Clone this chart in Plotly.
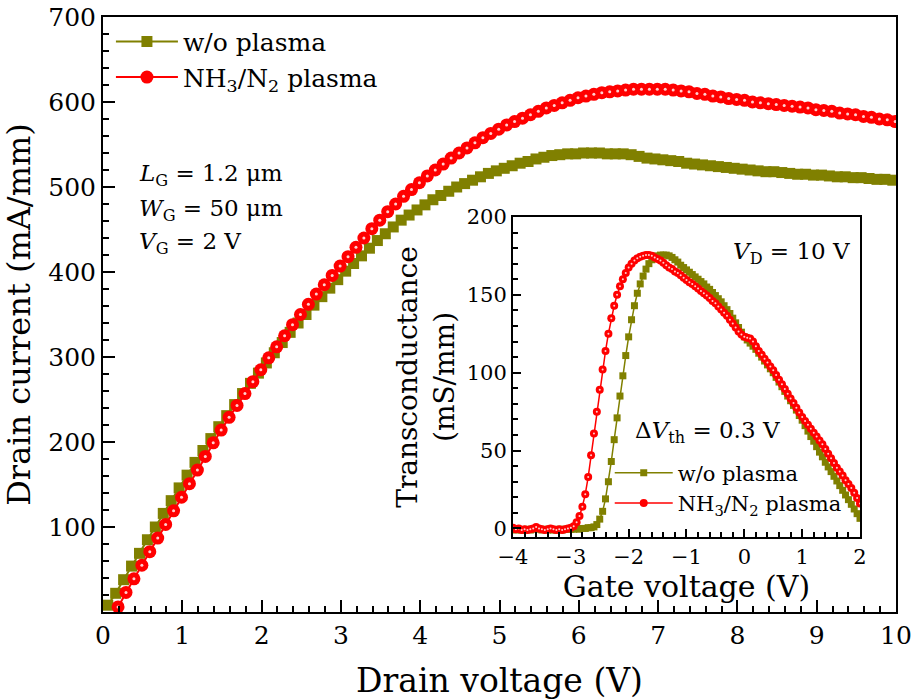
import plotly.graph_objects as go

# ---------------- main plot data (output characteristics, VG = 2 V) ----------------
drain_v_wo = [round(0.06 + 0.1 * i, 2) for i in range(100)]
drain_i_wo = [8, 22, 38, 54, 69, 85, 100, 116, 131, 146,
              161, 176, 190, 204, 218, 231, 244, 257, 269, 281,
              293, 305, 317, 329, 340, 350, 361, 371, 381, 391,
              401, 410, 419, 428, 437, 445, 453, 461, 467, 473,
              479, 485, 490, 495, 500, 504, 508, 512, 516, 519,
              522, 525, 528, 530, 533, 535, 537, 538, 539, 539,
              540, 540, 540, 539, 539, 539, 538, 536, 534, 533,
              532, 531, 530, 528, 527, 526, 525, 524, 523, 522,
              521, 520, 519, 518, 518, 517, 516, 515, 515, 514,
              514, 513, 512, 512, 511, 511, 510, 509, 509, 508]

drain_v_nh = [round(0.19 + 0.1 * i, 2) for i in range(99)]
drain_i_nh = [6, 23, 39, 55, 71, 87, 103, 119, 135, 151,
              167, 183, 199, 214, 229, 243, 257, 271, 285, 299,
              312, 325, 338, 350, 362, 374, 385, 396, 407, 418,
              429, 440, 451, 461, 471, 480, 489, 497, 505, 513,
              520, 527, 534, 540, 546, 552, 558, 563, 568, 573,
              577, 581, 585, 589, 593, 596, 599, 602, 605, 607,
              609, 611, 612, 613, 614, 615, 615, 615, 615, 615,
              614, 613, 612, 610, 609, 607, 606, 604, 603, 602,
              600, 599, 598, 597, 596, 595, 594, 593, 591, 590,
              589, 587, 586, 585, 583, 582, 580, 579, 577]

# ---------------- inset data (transfer, VD = 10 V) ----------------
gate_v = [round(-4 + 0.05 * i, 2) for i in range(121)]
gm_wo = [-0.5, -1, -0.5, -1, -1, -0.5, -1, -0.5, 0, -0.5,
         -1, -0.5, -1, -0.5, -1, -1, -0.5, -1, -0.5, -0.5,
         -0.5, -0.5, 0, -0.5, 0, 0, 0.5, 0.5,
         1, 2.5, 6, 11, 19, 30, 43, 57, 71, 85,
         98, 111, 123, 134, 143, 151, 157, 162, 166.5, 170,
         172.5, 174, 175, 175.5, 175.5, 175.5, 175, 174, 172.5, 171,
         169, 167.5, 166, 164.5, 163, 161.5, 160, 158.5, 157, 155,
         153.5, 151.5, 149.5, 147.5, 145.5, 143, 140.5, 138, 135, 132,
         129, 126, 123,
         121, 119, 117, 115, 112.5, 110, 107.5, 105, 102.5, 100,
         97, 94, 91, 88, 85, 82, 79, 76, 72.5, 69.5,
         66, 62.5, 59, 56, 52.5, 49, 46, 42.5, 39.5, 36.5,
         33.5, 30.5, 27.5, 24.5, 21.5, 18.5, 15.5, 12.5, 9.5, 6.5]
gm_nh = [0.5, -0.5, 0, -1, -0.5, -1, -0.5, 0, 1, 0,
         -0.5, -1, -0.5, 0, -0.5, -1, -0.5, -1, -0.5, 0,
         0.5,
         1.5, 4, 8, 14, 22, 33, 47, 61, 75, 89,
         102, 114, 125, 135, 143, 150, 155.5, 160, 164, 167.5,
         170, 172, 173.5, 174.5, 175, 175.5, 175.5, 175, 174, 173,
         172, 170.5, 169, 167.5, 166.5, 165, 164, 162.5, 161, 159.5,
         158, 157, 155.5, 154, 152.5, 151, 149.5, 148, 146, 144.5,
         142.5, 140.5, 138.5, 136.5, 134, 131.5, 129, 126.5, 124.5, 123,
         122.5, 122, 120, 117, 114, 111.5, 109, 106.5, 104, 101.5,
         98.5, 95.5, 92.5, 89.5, 86.5, 83.5, 80.5, 77.5, 74.5, 71.5,
         69, 66.5, 64, 61.5, 59, 56.5, 54, 51, 48, 45,
         42, 39, 36.5, 34, 31, 28.5, 26, 23, 19.5, 16]

main_xticks = [0, 1, 2, 3, 4, 5, 6, 7, 8, 9, 10]
main_yticks = [100, 200, 300, 400, 500, 600, 700]
inset_xticks = [-4, -3, -2, -1, 0, 1, 2]
inset_xlabels = ["−4", "−3", "−2", "−1", "0", "1", "2"]
inset_yticks = [0, 50, 100, 150, 200]

OLIVE = "#808000"
RED = "#ff0000"
HL = "#ffd0d0"
FONT = "DejaVu Serif"

fig = go.Figure()

# main traces
fig.add_trace(go.Scatter(
    x=drain_v_wo, y=drain_i_wo, mode="lines+markers", name="w/o plasma",
    line=dict(color=OLIVE, width=2),
    marker=dict(symbol="square", size=11, color=OLIVE, line=dict(width=0)),
    legend="legend"))
fig.add_trace(go.Scatter(
    x=drain_v_nh, y=drain_i_nh, mode="lines+markers",
    name="NH<sub>3</sub>/N<sub>2</sub> plasma",
    line=dict(color=RED, width=2),
    marker=dict(symbol="circle", size=13, color=RED, line=dict(width=0)),
    legend="legend"))
fig.add_trace(go.Scatter(
    x=drain_v_nh, y=drain_i_nh, mode="markers", showlegend=False,
    hoverinfo="skip", marker=dict(symbol="circle", size=3, color=HL)))

# inset traces
fig.add_trace(go.Scatter(
    x=gate_v, y=gm_wo, mode="lines+markers", name="w/o plasma",
    xaxis="x2", yaxis="y2",
    line=dict(color=OLIVE, width=1.5),
    marker=dict(symbol="square", size=7, color=OLIVE, line=dict(width=0)),
    legend="legend2"))
fig.add_trace(go.Scatter(
    x=gate_v, y=gm_nh, mode="lines+markers",
    name="NH<sub>3</sub>/N<sub>2</sub> plasma",
    xaxis="x2", yaxis="y2",
    line=dict(color=RED, width=1.5),
    marker=dict(symbol="circle", size=8, color=RED, line=dict(width=0)),
    legend="legend2"))
fig.add_trace(go.Scatter(
    x=gate_v, y=gm_nh, mode="markers", showlegend=False, hoverinfo="skip",
    xaxis="x2", yaxis="y2",
    marker=dict(symbol="circle", size=2, color=HL)))

axis_common = dict(showline=True, linecolor="black", mirror=True,
                   showgrid=False, zeroline=False, ticks="inside",
                   tickcolor="black", automargin=False,
                   ticklabeloverflow="allow")

fig.update_layout(
    width=913, height=700,
    margin=dict(l=103, r=17, t=17, b=88),
    paper_bgcolor="white", plot_bgcolor="white",
    font=dict(family=FONT, color="black", size=22),
    xaxis=dict(domain=[0, 1], range=[0, 10], tickmode="array",
               tickvals=main_xticks, ticklen=12, tickwidth=1.5, linewidth=2,
               minor=dict(tickmode="linear", tick0=0, dtick=0.2, ticklen=6,
                          ticks="inside", tickwidth=1.5, tickcolor="black"),
               tickfont=dict(size=25),
               title=dict(text="Drain voltage (V)", font=dict(size=33), standoff=24),
               **axis_common),
    yaxis=dict(domain=[0, 1], range=[0, 700], tickmode="array",
               tickvals=main_yticks, ticklen=12, tickwidth=1.5, linewidth=2,
               minor=dict(tickmode="linear", tick0=0, dtick=20, ticklen=6,
                          ticks="inside", tickwidth=1.5, tickcolor="black"),
               tickfont=dict(size=25),
               title=dict(text="Drain current (mA/mm)", font=dict(size=32), standoff=12),
               **axis_common),
    xaxis2=dict(domain=[0.517, 0.9546], anchor="y2", range=[-4, 2],
                tickmode="array", tickvals=inset_xticks, ticktext=inset_xlabels,
                ticklen=8, tickwidth=1.5, linewidth=2,
                minor=dict(tickmode="linear", tick0=-4, dtick=0.2, ticklen=5,
                           ticks="inside", tickwidth=1.5, tickcolor="black"),
                tickfont=dict(size=21),
                title=dict(text="Gate voltage (V)", font=dict(size=30), standoff=0),
                **axis_common),
    yaxis2=dict(domain=[0.126, 0.664], anchor="x2", range=[-5.5, 200],
                tickmode="array", tickvals=inset_yticks,
                ticklen=8, tickwidth=1.5, linewidth=2,
                minor=dict(tickmode="linear", tick0=0, dtick=10, ticklen=5,
                           ticks="inside", tickwidth=1.5, tickcolor="black"),
                tickfont=dict(size=21),
                title=dict(text="Transconductance<br>(mS/mm)", font=dict(size=28), standoff=4),
                **axis_common),
    legend=dict(x=0.01, y=0.997, xanchor="left", yanchor="top", itemwidth=62,
                bgcolor="rgba(0,0,0,0)", font=dict(size=25), tracegroupgap=0),
    legend2=dict(x=0.639, y=0.268, xanchor="left", yanchor="top", itemwidth=58,
                 bgcolor="rgba(0,0,0,0)", font=dict(size=21), tracegroupgap=0),
    showlegend=True,
)

annots = [
    dict(x=0.043, y=0.734, text="<i>L</i><sub>G</sub> = 1.2 μm", xanchor="left"),
    dict(x=0.043, y=0.676, text="<i>W</i><sub>G</sub> = 50 μm", xanchor="left"),
    dict(x=0.043, y=0.620, text="<i>V</i><sub>G</sub> = 2 V", xanchor="left"),
    dict(x=0.9445, y=0.603, text="<i>V</i><sub>D</sub> = 10 V", xanchor="right"),
    dict(x=0.668, y=0.3025, text="Δ<i>V</i><sub>th</sub> = 0.3 V", xanchor="left"),
]
for a in annots:
    fig.add_annotation(xref="paper", yref="paper", showarrow=False,
                       yanchor="middle", font=dict(size=23, family=FONT), **a)

fig.write_html("out.html")
